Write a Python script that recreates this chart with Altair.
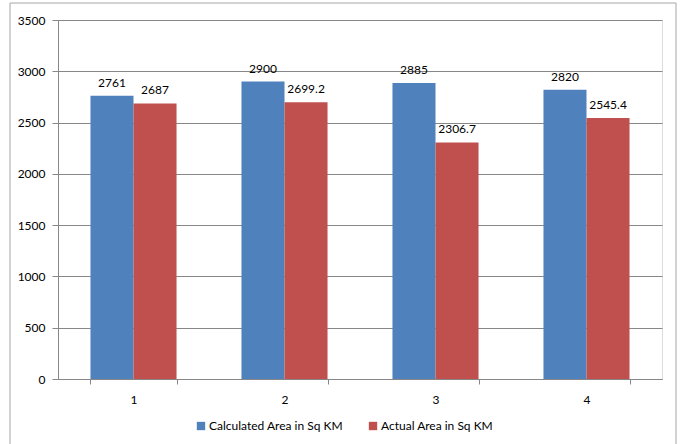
import altair as alt
import pandas as pd

categories = ["1", "2", "3", "4"]
series_names = ["Calculated Area in Sq KM", "Actual Area in Sq KM"]
calculated = [2761, 2900, 2885, 2820]
actual = [2687, 2699.2, 2306.7, 2545.4]
y_ticks = [0, 500, 1000, 1500, 2000, 2500, 3000, 3500]
colors = ["#4F81BD", "#C0504D"]

rows = []
for i, c in enumerate(categories):
    for s, vals in zip(series_names, [calculated, actual]):
        rows.append({"cat": c, "series": s, "value": vals[i], "label": f"{vals[i]:g}"})
df = pd.DataFrame(rows)

FONT = "Lato"
GRAY = "#878787"

x_enc = alt.X("cat:N", sort=categories, title=None,
              scale=alt.Scale(paddingInner=0.43, paddingOuter=0.215),
              axis=alt.Axis(labelAngle=0, tickBand="extent", tickSize=5, labelPadding=10,
                            domainColor=GRAY, tickColor=GRAY, labelFont=FONT, labelFontSize=12,
                            labelColor="#000000", grid=False))
xo_enc = alt.XOffset("series:N", sort=series_names, scale=alt.Scale(paddingInner=0, paddingOuter=0))
y_enc = alt.Y("value:Q", title=None,
              scale=alt.Scale(domain=[0, 3500], nice=False),
              axis=alt.Axis(values=y_ticks, format="d", tickSize=6, labelPadding=7,
                            domainColor=GRAY, tickColor=GRAY, gridColor=GRAY, labelFont=FONT,
                            labelFontSize=12, labelColor="#000000"))

frame = alt.Chart(alt.Data(values=[{"a": 1}])).mark_rect(
    filled=False, stroke="#A6A6A6", strokeWidth=1
).encode(x=alt.value(-48), x2=alt.value(618), y=alt.value(-17), y2=alt.value(450))

bars = alt.Chart(df).mark_bar().encode(
    x=x_enc, xOffset=xo_enc, y=y_enc,
    color=alt.Color("series:N", sort=series_names,
                    scale=alt.Scale(domain=series_names, range=colors),
                    legend=alt.Legend(title=None, orient="none", direction="horizontal",
                                      legendX=137, legendY=400, symbolType="square",
                                      symbolSize=70, symbolStrokeWidth=0, labelFont=FONT,
                                      labelFontSize=12, labelColor="#000000", labelOffset=2,
                                      columnPadding=24))
)

texts = alt.Chart(df).mark_text(baseline="alphabetic", dy=-9, font=FONT, fontSize=12,
                                color="#000000").encode(
    x=alt.X("cat:N", sort=categories), xOffset=alt.XOffset("series:N", sort=series_names),
    y="value:Q", text="label:N"
)

chart = alt.layer(frame, bars, texts).properties(
    width=604, height=359,
    autosize=alt.AutoSizeParams(type="none"),
    padding={"left": 58, "top": 20, "right": 24, "bottom": 65},
).configure_view(stroke=None).configure(background="white")

chart.save("out.html", embed_options={"renderer": "svg", "actions": False})
